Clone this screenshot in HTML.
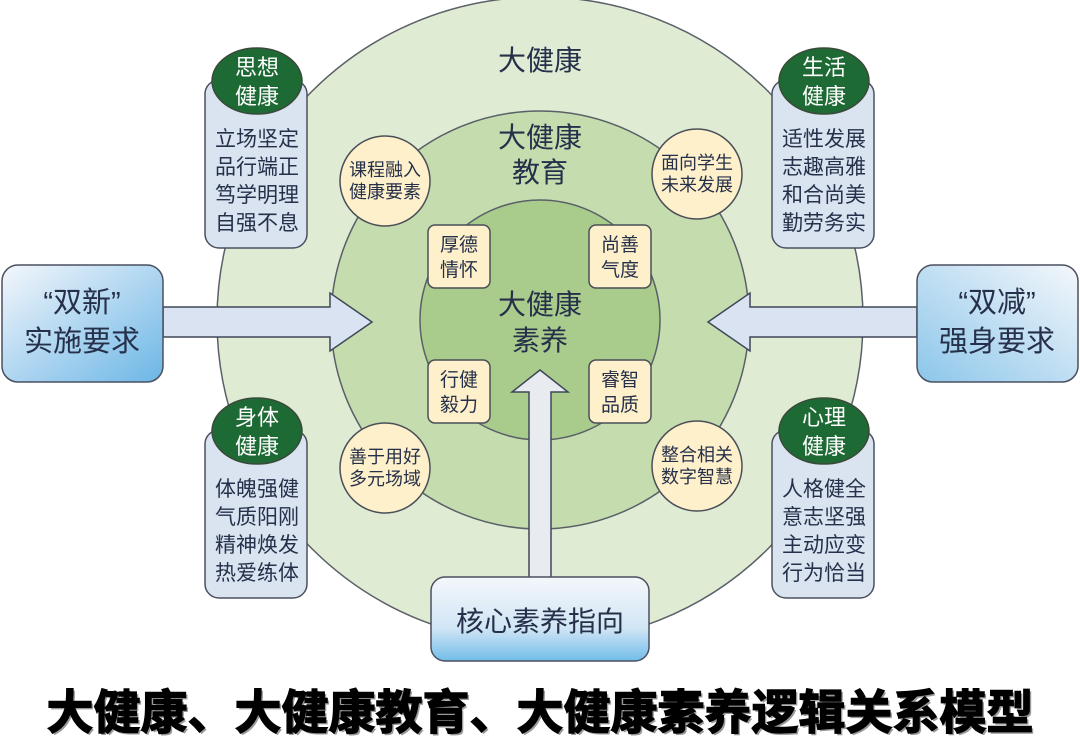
<!DOCTYPE html>
<html><head><meta charset="utf-8"><style>
html,body{margin:0;padding:0;background:#fff;width:1080px;height:742px;overflow:hidden}
svg text{font-family:"Liberation Sans","Noto Sans CJK SC",sans-serif;fill:#26304a;text-anchor:middle}
</style></head><body>
<svg width="1080" height="742" viewBox="0 0 1080 742" xmlns="http://www.w3.org/2000/svg">
<defs>
<linearGradient id="bg1" x1="0" y1="0" x2="1" y2="1"><stop offset="0" stop-color="#f4f7fb"/><stop offset="1" stop-color="#6cb6e6"/></linearGradient>
<linearGradient id="bg2" x1="0" y1="0" x2="0" y2="1"><stop offset="0" stop-color="#f4f7fb"/><stop offset="0.6" stop-color="#d2e6f5"/><stop offset="1" stop-color="#72bdea"/></linearGradient>
<linearGradient id="bg3" x1="1" y1="0" x2="0" y2="1"><stop offset="0" stop-color="#f4f7fb"/><stop offset="1" stop-color="#8cc6ea"/></linearGradient>
</defs>
<circle cx="540" cy="320" r="323" fill="#dfebd3" stroke="#5a6068" stroke-width="1.5"/>
<circle cx="540" cy="320" r="209" fill="#c4dcae" stroke="#5a6068" stroke-width="1.5"/>
<circle cx="540" cy="320" r="120" fill="#a9cc8c" stroke="#5a6068" stroke-width="1.5"/>

<text x="540" y="70" font-size="28">大健康</text>
<text x="540" y="147" font-size="28">大健康</text>
<text x="540" y="182" font-size="28">教育</text>
<text x="540" y="314" font-size="28">大健康</text>
<text x="540" y="350" font-size="28">素养</text>

<g fill="#fdf0cb" stroke="#4a4f58" stroke-width="1.5">
<circle cx="385" cy="181" r="45"/><circle cx="697" cy="174" r="45"/>
<circle cx="385" cy="468" r="45"/><circle cx="697" cy="466" r="45"/>
</g>
<g font-size="18">
<text x="385" y="176">课程融入</text><text x="385" y="198">健康要素</text>
<text x="697" y="169">面向学生</text><text x="697" y="191">未来发展</text>
<text x="385" y="463">善于用好</text><text x="385" y="485">多元场域</text>
<text x="697" y="461">整合相关</text><text x="697" y="483">数字智慧</text>
</g>
<g fill="#fdf0cb" stroke="#4a4f58" stroke-width="1.5">
<rect x="428" y="225" width="62" height="63" rx="7"/><rect x="589" y="225" width="62" height="63" rx="7"/>
<rect x="428" y="360" width="62" height="63" rx="7"/><rect x="589" y="360" width="62" height="63" rx="7"/>
</g>
<g font-size="19">
<text x="459" y="251">厚德</text><text x="459" y="276">情怀</text>
<text x="620" y="251">尚善</text><text x="620" y="276">气度</text>
<text x="459" y="386">行健</text><text x="459" y="411">毅力</text>
<text x="620" y="386">睿智</text><text x="620" y="411">品质</text>
</g>

<g fill="#dae3f1" stroke="#3e4658" stroke-width="1.5">
<polygon points="163,307 330,307 330,293 372,322 330,351 330,337 163,337"/>
<polygon points="917,307 750,307 750,293 708,322 750,351 750,337 917,337"/>
<polygon points="529,578 529,392 512,392 540,370 568,392 551,392 551,578" fill="#e8ebef"/>
</g>

<g fill="#dae4f1" stroke="#4a5060" stroke-width="1.5">
<rect x="205" y="80" width="102" height="168" rx="14"/>
<rect x="772" y="80" width="102" height="168" rx="14"/>
<rect x="205" y="430" width="102" height="168" rx="14"/>
<rect x="772" y="430" width="102" height="168" rx="14"/>
</g>
<g fill="#1e6a34" stroke="#3a4a3a" stroke-width="1.5">
<ellipse cx="257" cy="81" rx="45" ry="33"/><ellipse cx="824" cy="81" rx="45" ry="33"/>
<ellipse cx="257" cy="431" rx="45" ry="33"/><ellipse cx="824" cy="431" rx="45" ry="33"/>
</g>
<g font-size="22">
<text x="257" y="75" style="fill:#fff">思想</text><text x="257" y="104" style="fill:#fff">健康</text>
<text x="824" y="75" style="fill:#fff">生活</text><text x="824" y="104" style="fill:#fff">健康</text>
<text x="257" y="425" style="fill:#fff">身体</text><text x="257" y="454" style="fill:#fff">健康</text>
<text x="824" y="425" style="fill:#fff">心理</text><text x="824" y="454" style="fill:#fff">健康</text>
</g>
<g font-size="21">
<text x="257" y="146">立场坚定</text><text x="257" y="174">品行端正</text><text x="257" y="202">笃学明理</text><text x="257" y="230">自强不息</text>
<text x="824" y="146">适性发展</text><text x="824" y="174">志趣高雅</text><text x="824" y="202">和合尚美</text><text x="824" y="230">勤劳务实</text>
<text x="257" y="496">体魄强健</text><text x="257" y="524">气质阳刚</text><text x="257" y="552">精神焕发</text><text x="257" y="580">热爱练体</text>
<text x="824" y="496">人格健全</text><text x="824" y="524">意志坚强</text><text x="824" y="552">主动应变</text><text x="824" y="580">行为恰当</text>
</g>

<rect x="2" y="265" width="161" height="117" rx="16" fill="url(#bg1)" stroke="#4a5060" stroke-width="1.5"/>
<rect x="917" y="265" width="161" height="117" rx="16" fill="url(#bg3)" stroke="#4a5060" stroke-width="1.5"/>
<rect x="431" y="577" width="218" height="84" rx="14" fill="url(#bg2)" stroke="#4a5060" stroke-width="1.5"/>
<g font-size="29">
<text x="82" y="312">“双新”</text><text x="82" y="351">实施要求</text>
<text x="997" y="312">“双减”</text><text x="997" y="351">强身要求</text>
</g>
<text x="540" y="631" font-size="28">核心素养指向</text>

<text x="542" y="731" font-size="47" font-weight="bold" style="fill:#999">大健康、大健康教育、大健康素养逻辑关系模型</text>
<text x="540" y="729" font-size="47" font-weight="bold" style="fill:#000;stroke:#000;stroke-width:1.4">大健康、大健康教育、大健康素养逻辑关系模型</text>
</svg>
</body></html>
